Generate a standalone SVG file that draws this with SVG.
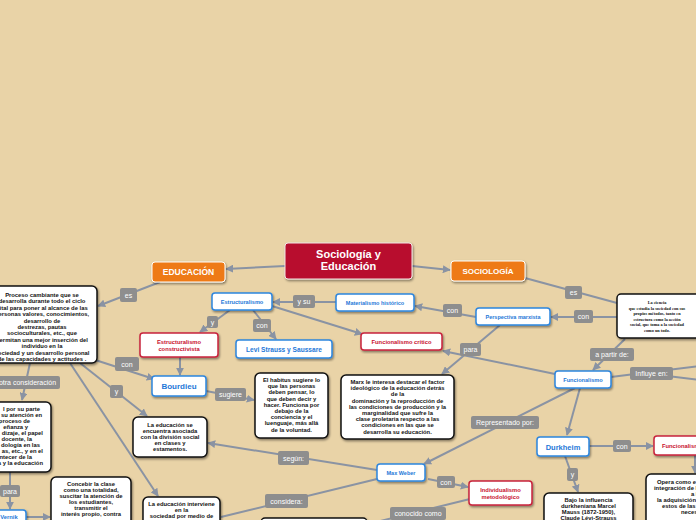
<svg xmlns="http://www.w3.org/2000/svg" width="696" height="520" viewBox="0 0 696 520">
<defs>
<marker id="arr" viewBox="0 0 10 10" refX="9" refY="5" markerWidth="8" markerHeight="8" markerUnits="userSpaceOnUse" orient="auto">
<path d="M0,0 L10,5 L0,10 z" fill="#8A93A3"/>
</marker>
<filter id="sh" x="-10%" y="-10%" width="120%" height="130%">
<feDropShadow dx="1" dy="1.5" stdDeviation="0.8" flood-color="#000" flood-opacity="0.45"/>
</filter>
<style>
.c{fill:none;stroke:#8A93A3;stroke-width:2}
.ca{fill:none;stroke:#8A93A3;stroke-width:2;marker-end:url(#arr)}
.lb{fill:#8E8E8E}
.lt{font-family:"Liberation Sans",Arial,sans-serif;font-size:7px;fill:#fff;text-anchor:middle}
.blue{fill:#fff;stroke:#2E86DE;stroke-width:1.5;filter:url(#sh)}
.bt{font-family:"Liberation Sans",Arial,sans-serif;font-weight:bold;fill:#1E78D8;text-anchor:middle}
.red{fill:#fff;stroke:#C8243C;stroke-width:1.5;filter:url(#sh)}
.rt{font-family:"Liberation Sans",Arial,sans-serif;font-weight:bold;fill:#C8102E;text-anchor:middle;font-size:5.8px}
.blk{fill:#fff;stroke:#111;stroke-width:1.5;filter:url(#sh)}
.kt{font-family:"Liberation Sans",Arial,sans-serif;font-weight:bold;fill:#111;text-anchor:middle;font-size:5.85px}
.or{fill:#EE7A12;stroke:#fff;stroke-width:1;filter:url(#sh)}
.wt{font-family:"Liberation Sans",Arial,sans-serif;font-weight:bold;fill:#fff;text-anchor:middle}
</style>
</defs>
<rect width="696" height="520" fill="#E9D3A7"/>

<g id="connectors">
<path class="ca" d="M285,266 L226,269"/>
<path class="ca" d="M412,266 L450,270"/>
<path class="ca" d="M160,282 L98,306"/>
<path class="c" d="M525,278 L617,303"/>
<path class="ca" d="M336,302 L273,302"/>
<path class="ca" d="M476,317 L415,306"/>
<path class="ca" d="M617,317 L551,317"/>
<path class="ca" d="M253,310 L276,339"/>
<path class="ca" d="M230,310 L200,332"/>
<path class="ca" d="M272,306 L362,334"/>
<path class="ca" d="M555,374 L443,351"/>
<path class="ca" d="M500,325 L442,374"/>
<path class="ca" d="M625,339 L593,370"/>
<path class="c" d="M611,377 L651,372 L700,366"/>
<path class="c" d="M651,374 L700,380"/>
<path class="ca" d="M180,357 L180,375"/>
<path class="ca" d="M86,357 L154,379"/>
<path class="ca" d="M206,391 L254,400"/>
<path class="ca" d="M80,363 L147,416"/>
<path class="ca" d="M377,470 L208,443"/>
<path class="ca" d="M575,388 L424,464"/>
<path class="ca" d="M580,388 L567,435"/>
<path class="ca" d="M589,446 L653,446"/>
<path class="ca" d="M695,455 L695,473"/>
<path class="ca" d="M565,456 L578,492"/>
<path class="ca" d="M428,479 L468,487"/>
<path class="c" d="M470,499 L360,526"/>
<path class="c" d="M377,479 L221,517"/>
<path class="ca" d="M30,363 L22,400"/>
<path class="ca" d="M70,363 L158,496"/>
<path class="ca" d="M10,472 L10,509"/>
<path class="ca" d="M26,517 L50,517"/>
</g>

<g id="labels">
<rect class="lb" x="120" y="288" width="17" height="14" rx="2"/><text class="lt" x="128.5" y="297.5">es</text>
<rect class="lb" x="565" y="286" width="17" height="13" rx="2"/><text class="lt" x="573.5" y="295">es</text>
<rect class="lb" x="293" y="295" width="22" height="13" rx="2"/><text class="lt" x="304" y="304">y su</text>
<rect class="lb" x="443" y="304" width="19" height="13" rx="2"/><text class="lt" x="452.5" y="313">con</text>
<rect class="lb" x="574" y="310" width="19" height="13" rx="2"/><text class="lt" x="583.5" y="319">con</text>
<rect class="lb" x="253" y="319" width="18" height="13" rx="2"/><text class="lt" x="262" y="328">con</text>
<rect class="lb" x="207" y="316" width="11" height="12" rx="2"/><text class="lt" x="212.5" y="324.5">y</text>
<rect class="lb" x="460" y="343" width="21" height="13" rx="2"/><text class="lt" x="470.5" y="352">para</text>
<rect class="lb" x="590" y="348" width="44" height="13" rx="2"/><text class="lt" x="612" y="357">a partir de:</text>
<rect class="lb" x="630" y="367" width="43" height="13" rx="2"/><text class="lt" x="651.5" y="376">Influye en:</text>
<rect class="lb" x="115" y="357" width="24" height="14" rx="2"/><text class="lt" x="127" y="366.5">con</text>
<rect class="lb" x="-5" y="376" width="65" height="13" rx="2"/><text class="lt" x="27.5" y="385">otra consideración</text>
<rect class="lb" x="110" y="385" width="13" height="13" rx="2"/><text class="lt" x="116.5" y="394">y</text>
<rect class="lb" x="215" y="388" width="31" height="13" rx="2"/><text class="lt" x="230.5" y="397">sugiere</text>
<rect class="lb" x="471" y="416" width="68" height="13" rx="2"/><text class="lt" x="505" y="425">Representado por:</text>
<rect class="lb" x="613" y="440" width="18" height="12" rx="2"/><text class="lt" x="622" y="448.5">con</text>
<rect class="lb" x="278" y="451" width="31" height="14" rx="2"/><text class="lt" x="293.5" y="460.5">según:</text>
<rect class="lb" x="567" y="468" width="11" height="13" rx="2"/><text class="lt" x="572.5" y="477">y</text>
<rect class="lb" x="437" y="476" width="18" height="12" rx="2"/><text class="lt" x="446" y="484.5">con</text>
<rect class="lb" x="0" y="485" width="20" height="12" rx="2"/><text class="lt" x="10" y="493.5">para</text>
<rect class="lb" x="265" y="494" width="43" height="14" rx="2"/><text class="lt" x="286.5" y="503.5">considera:</text>
<rect class="lb" x="390" y="507" width="56" height="13" rx="2"/><text class="lt" x="418" y="516">conocido como</text>
</g>

<g id="n-main">
<rect x="285" y="243" width="127" height="36" rx="3" fill="#B80F2E" stroke="#F3E6E6" stroke-width="1" filter="url(#sh)"/>
<text class="wt" x="348.5" y="258" font-size="11">Sociología y</text>
<text class="wt" x="348.5" y="270" font-size="11">Educación</text>
</g>
<g id="n-educacion">
<rect class="or" x="152" y="262" width="73" height="20" rx="3"/>
<text class="wt" x="188.5" y="275" font-size="8.5">EDUCACIÓN</text>
</g>
<g id="n-sociologia">
<rect class="or" x="451" y="261" width="74" height="20" rx="3"/>
<text class="wt" x="488" y="274" font-size="8">SOCIOLOGÍA</text>
</g>

<g id="n-proceso">
<rect class="blk" x="-12" y="286" width="109" height="77" rx="5"/>
<g class="kt">
<text x="42" y="297">Proceso cambiante que se</text>
<text x="42" y="303.4">desarrolla durante todo el ciclo</text>
<text x="42" y="309.8">vital para poner al alcance de las</text>
<text x="42" y="316.2">personas valores, conocimientos,</text>
<text x="42" y="322.6">desarrollo de</text>
<text x="42" y="329">destrezas, pautas</text>
<text x="42" y="335.4">socioculturales, etc., que</text>
<text x="42" y="341.8">permitan una mejor inserción del</text>
<text x="42" y="348.2">individuo en la</text>
<text x="42" y="354.6">sociedad y un desarrollo personal</text>
<text x="42" y="361">de las capacidades  y actitudes .</text>
</g>
</g>

<g id="n-ciencia">
<rect class="blk" x="617" y="294" width="90" height="44" rx="4"/>
<g font-family="'Liberation Serif',serif" font-weight="bold" font-size="4.3" fill="#111" text-anchor="middle">
<text x="657" y="304">La ciencia</text>
<text x="657" y="309.5">que estudia la sociedad con sus</text>
<text x="657" y="315">propios métodos, tanto en</text>
<text x="657" y="320.5">estructura como la acción</text>
<text x="657" y="326">social, que toma a la sociedad</text>
<text x="657" y="331.5">como un todo.</text>
</g>
</g>

<g id="n-estructuralismo">
<rect class="blue" x="212" y="293" width="60" height="17" rx="3"/>
<text class="bt" x="242" y="303.8" font-size="5.6">Estructuralismo</text>
</g>
<g id="n-materialismo">
<rect class="blue" x="336" y="294" width="78" height="17" rx="3"/>
<text class="bt" x="375" y="304.8" font-size="5.5">Materialismo histórico</text>
</g>
<g id="n-perspectiva">
<rect class="blue" x="476" y="308" width="74" height="17" rx="3"/>
<text class="bt" x="513" y="318.8" font-size="5.5">Perspectiva marxista</text>
</g>
<g id="n-constructivista">
<rect class="red" x="140" y="333" width="78" height="24" rx="3"/>
<text class="rt" x="179" y="343.5">Estructuralismo</text>
<text class="rt" x="179" y="350.5">constructivista</text>
</g>
<g id="n-levi">
<rect class="blue" x="236" y="340" width="96" height="18" rx="3"/>
<text class="bt" x="284" y="351.5" font-size="6.6">Levi Strauss y Saussare</text>
</g>
<g id="n-critico">
<rect class="red" x="361" y="333" width="81" height="17" rx="3"/>
<text class="rt" x="401.5" y="343.8">Funcionalismo crítico</text>
</g>
<g id="n-funcionalismo">
<rect class="blue" x="555" y="371" width="56" height="17" rx="3"/>
<text class="bt" x="583" y="381.8" font-size="5.6">Funcionalismo</text>
</g>
<g id="n-bourdieu">
<rect class="blue" x="152" y="376" width="54" height="20" rx="3"/>
<text class="bt" x="179" y="389" font-size="8">Bourdieu</text>
</g>

<g id="n-habitus">
<rect class="blk" x="255" y="373" width="73" height="65" rx="5"/>
<g class="kt">
<text x="291.5" y="382">El habitus sugiere lo</text>
<text x="291.5" y="388.2">que las personas</text>
<text x="291.5" y="394.4">deben pensar, lo</text>
<text x="291.5" y="400.6">que deben decir y</text>
<text x="291.5" y="406.8">hacer. Funciona por</text>
<text x="291.5" y="413">debajo de la</text>
<text x="291.5" y="419.2">conciencia y el</text>
<text x="291.5" y="425.4">luenguaje, más allá</text>
<text x="291.5" y="431.6">de la voluntad.</text>
</g>
</g>

<g id="n-marx">
<rect class="blk" x="341" y="375" width="113" height="64" rx="5"/>
<g class="kt">
<text x="397.5" y="384">Marx le interesa destacar el factor</text>
<text x="397.5" y="390.2">ideológico de la educación detrás</text>
<text x="397.5" y="396.4">de la</text>
<text x="397.5" y="402.6">dominación y la reproducción de</text>
<text x="397.5" y="408.8">las condiciones de producción y la</text>
<text x="397.5" y="415">marginalidad que sufre la</text>
<text x="397.5" y="421.2">clase proletaria respecto a las</text>
<text x="397.5" y="427.4">condiciones en las que se</text>
<text x="397.5" y="433.6">desarrolla su educación.</text>
</g>
</g>

<g id="n-division">
<rect class="blk" x="133" y="417" width="74" height="40" rx="5"/>
<g class="kt">
<text x="170" y="426.5">La educación se</text>
<text x="170" y="432.7">encuentra asociada</text>
<text x="170" y="438.9">con la división social</text>
<text x="170" y="445.1">en clases y</text>
<text x="170" y="451.3">estamentos.</text>
</g>
</g>

<g id="n-estructural">
<rect class="blk" x="-12" y="402" width="63" height="70" rx="5"/>
<g class="kt" style="text-anchor:end">
<text x="40" y="411">l por su parte</text>
<text x="42" y="417">su atención en</text>
<text x="30" y="423">proceso de</text>
<text x="28" y="429">eñanza y</text>
<text x="43" y="435">dizaje, el papel</text>
<text x="32" y="441">docente, la</text>
<text x="40" y="447">dología en las</text>
<text x="43" y="453">as, etc., y en el</text>
<text x="32" y="459">ntecer de la</text>
<text x="43" y="465">a y la educación</text>
</g>
</g>

<g id="n-vernik">
<rect class="blue" x="-6" y="510" width="32" height="16" rx="3"/>
<text class="bt" x="9" y="519" font-size="5.8">Vernik</text>
</g>

<g id="n-concebir">
<rect class="blk" x="51" y="477" width="80" height="50" rx="5"/>
<g class="kt">
<text x="91" y="486">Concebir la clase</text>
<text x="91" y="492">como una totalidad,</text>
<text x="91" y="498">suscitar la atención de</text>
<text x="91" y="504">los estudiantes,</text>
<text x="91" y="510">transmitir el</text>
<text x="91" y="516">interés propio, contra</text>
</g>
</g>

<g id="n-interviene">
<rect class="blk" x="143" y="497" width="77" height="30" rx="5"/>
<g class="kt">
<text x="181.5" y="506">La educación interviene</text>
<text x="181.5" y="511.8">en la</text>
<text x="181.5" y="517.6">sociedad por medio de</text>
</g>
</g>

<g id="n-bottom">
<rect class="blk" x="261" y="518" width="106" height="20" rx="4"/>
</g>

<g id="n-weber">
<rect class="blue" x="377" y="464" width="48" height="17" rx="3"/>
<text class="bt" x="401" y="474.8" font-size="5.5">Max Weber</text>
</g>

<g id="n-individualismo">
<rect class="red" x="469" y="481" width="63" height="24" rx="3"/>
<text class="rt" x="500.5" y="491.5">Individualismo</text>
<text class="rt" x="500.5" y="498.5">metodológico</text>
</g>

<g id="n-durkheim">
<rect class="blue" x="537" y="437" width="52" height="19" rx="3"/>
<text class="bt" x="563" y="449.5" font-size="7.5">Durkheim</text>
</g>

<g id="n-funcest">
<rect class="red" x="654" y="436" width="60" height="19" rx="3"/>
<text class="rt" x="662" y="448" style="text-anchor:start">Funcionalismo</text>
</g>

<g id="n-bajo">
<rect class="blk" x="544" y="493" width="89" height="35" rx="5"/>
<g class="kt">
<text x="588.5" y="502">Bajo la influencia</text>
<text x="588.5" y="508">durkheniana  Marcel</text>
<text x="588.5" y="514">Mauss (1872-1950),</text>
<text x="588.5" y="520">Claude Lévi-Strauss</text>
</g>
</g>

<g id="n-opera">
<rect class="blk" x="646" y="474" width="70" height="52" rx="5"/>
<g class="kt" style="text-anchor:start">
<text x="657" y="484">Opera como e</text>
<text x="654" y="490">integración de l</text>
<text x="691" y="496">a la soc</text>
<text x="657" y="502">la adquisición d</text>
<text x="662" y="508">estos de las c</text>
<text x="681" y="514">necesa</text>
</g>
</g>
</svg>
